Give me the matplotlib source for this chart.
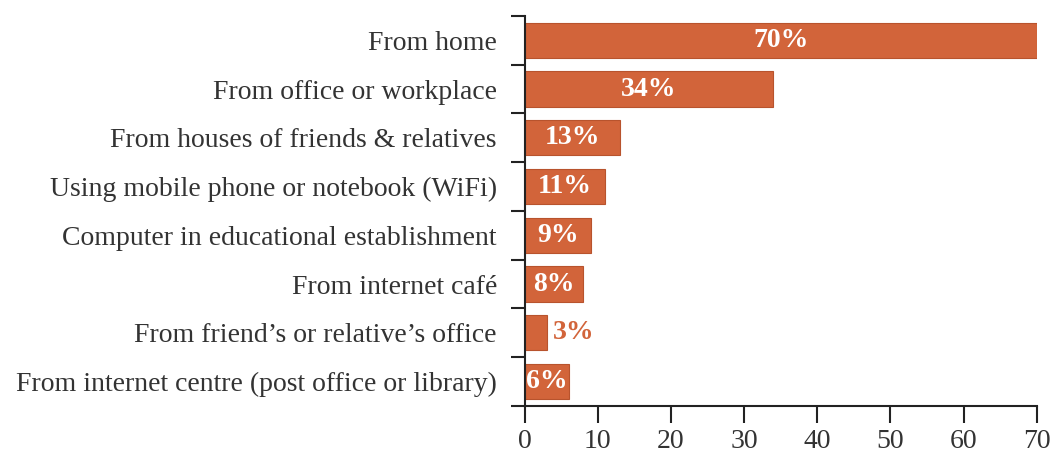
import matplotlib
matplotlib.use("Agg")
import matplotlib.pyplot as plt
from matplotlib.ticker import FixedLocator, NullFormatter

categories = [
    "From home",
    "From office or workplace",
    "From houses of friends & relatives",
    "Using mobile phone or notebook (WiFi)",
    "Computer in educational establishment",
    "From internet café",
    "From friend’s or relative’s office",
    "From internet centre (post office or library)",
]
values = [70, 34, 13, 11, 9, 8, 3, 6]
labels = ["70%", "34%", "13%", "11%", "9%", "8%", "3%", "6%"]

BAR = "#d2643a"
plt.rcParams["font.family"] = ["Liberation Serif", "DejaVu Serif"]

fig = plt.figure(figsize=(10.6, 4.55), dpi=100)
ax = fig.add_axes([0.495, 0.108, 0.483, 0.857])

ypos = list(range(len(categories)))
ax.barh(ypos, values, height=0.72, color=BAR, edgecolor="#b8532d", linewidth=0.8)

for y, v, lab in zip(ypos, values, labels):
    if v >= 6:
        ax.text(v / 2, y, lab, ha="center", va="center", color="white",
                fontsize=20, fontweight="bold")
    else:
        ax.text(v + 0.8, y, lab, ha="left", va="center", color=BAR,
                fontsize=20, fontweight="bold")

ax.set_xlim(0, 70)
ax.set_ylim(len(categories) - 0.5, -0.5)
ax.set_xticks(range(0, 71, 10))

# category labels at bar centres, tick marks at band boundaries
ax.set_yticks(ypos)
ax.set_yticklabels(categories)
ax.tick_params(axis="y", which="major", length=0, pad=20, labelsize=20,
               labelcolor="#333333")
ax.yaxis.set_minor_locator(FixedLocator([i - 0.5 for i in range(len(categories) + 1)]))
ax.yaxis.set_minor_formatter(NullFormatter())
ax.tick_params(axis="y", which="minor", length=10, width=1.5, color="#222222")
ax.tick_params(axis="x", length=12, width=1.5, color="#222222", labelsize=20,
               labelcolor="#333333", pad=5)

for s in ("top", "right"):
    ax.spines[s].set_visible(False)
for s in ("left", "bottom"):
    ax.spines[s].set_linewidth(1.5)
    ax.spines[s].set_color("#222222")

fig.savefig("out.png", dpi=100)
